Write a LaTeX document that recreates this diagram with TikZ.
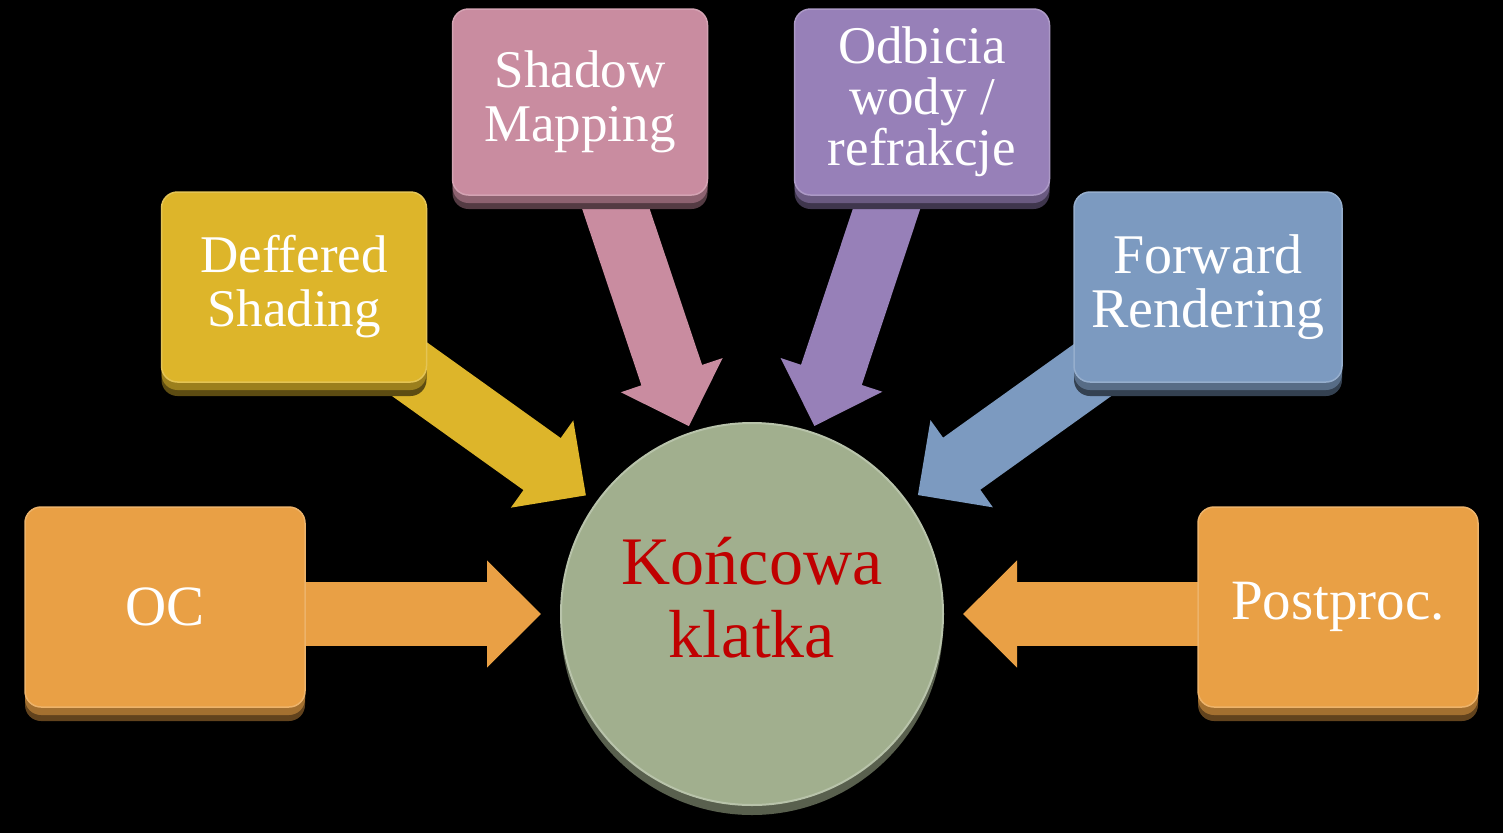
\documentclass[tikz,border=0pt]{standalone}
\usepackage{fontspec}
\setmainfont{Liberation Serif}
\usetikzlibrary{arrows.meta,shadows}
\definecolor{cOr}{HTML}{E9A045}
\definecolor{cGold}{HTML}{DDB52A}
\definecolor{cPink}{HTML}{C98CA0}
\definecolor{cPurp}{HTML}{9780B8}
\definecolor{cBlue}{HTML}{7C9AC0}
\definecolor{cGreen}{HTML}{A1AF8E}
\definecolor{cRed}{HTML}{C00000}
\pgfdeclarelayer{bg}
\pgfdeclarelayer{arrows}
\pgfsetlayers{bg,arrows,main}
\begin{document}
\begin{tikzpicture}[x=1pt,y=-1pt,
  box/.style={draw=#1!80!white, line width=1.5pt, fill=#1, rounded corners=16pt,
    align=center, text=white, font=\fontsize{53}{54}\selectfont, outer sep=0pt,
    general shadow={shadow yshift=-14pt, fill=#1!42!black},
    general shadow={shadow yshift=-8pt, fill=#1!70!black}},
  arr/.style={draw=#1, line width=64pt, -{Triangle[length=54pt,width=104pt]}, shorten <=-60pt}
]
\begin{pgfonlayer}{bg}
\fill[black] (0,0) rectangle (1503,833);
\end{pgfonlayer}
\useasboundingbox (0,0) rectangle (1503,833);

\node[circle, minimum size=382pt, inner sep=0pt, outer sep=0pt, fill=cGreen,
  draw=cGreen!75!white, line width=2pt,
  general shadow={shadow yshift=-10pt, fill=cGreen!55!black},
  text=cRed, align=center, text depth=34pt, font=\fontsize{68}{73}\selectfont] (fin) at (752,614) {Końcowa\\klatka};

\node[box=cOr, minimum width=280pt, minimum height=200pt, font=\fontsize{57}{58}\selectfont] (oc) at (165,607) {OC};
\node[box=cGold, minimum width=265pt, minimum height=190pt] (def) at (294,287) {Deffered\\Shading};
\node[box=cPink, minimum width=255pt, minimum height=186pt] (sha) at (580,102) {Shadow\\Mapping};
\node[box=cPurp, minimum width=255pt, minimum height=186pt, font=\fontsize{53}{51}\selectfont] (odb) at (922,102) {Odbicia\\wody /\\refrakcje};
\node[box=cBlue, minimum width=268pt, minimum height=190pt, font=\fontsize{56}{54}\selectfont] (fwd) at (1208,287) {Forward\\Rendering};
\node[box=cOr, minimum width=280pt, minimum height=200pt, font=\fontsize{57}{58}\selectfont] (pp) at (1338,607) {Postproc.};

\begin{pgfonlayer}{arrows}
\draw[arr=cOr, shorten >=20pt] (oc.east |- fin) -- (fin.west);
\draw[arr=cOr, shorten >=20pt] (pp.west |- fin) -- (fin.east);
\draw[arr=cGold, shorten >=13pt] (def) -- (fin);
\draw[arr=cBlue, shorten >=13pt] (fwd) -- (fin);
\draw[arr=cPink, shorten >=7pt] (sha) -- (fin);
\draw[arr=cPurp, shorten >=7pt] (odb) -- (fin);
\end{pgfonlayer}
\end{tikzpicture}
\end{document}
